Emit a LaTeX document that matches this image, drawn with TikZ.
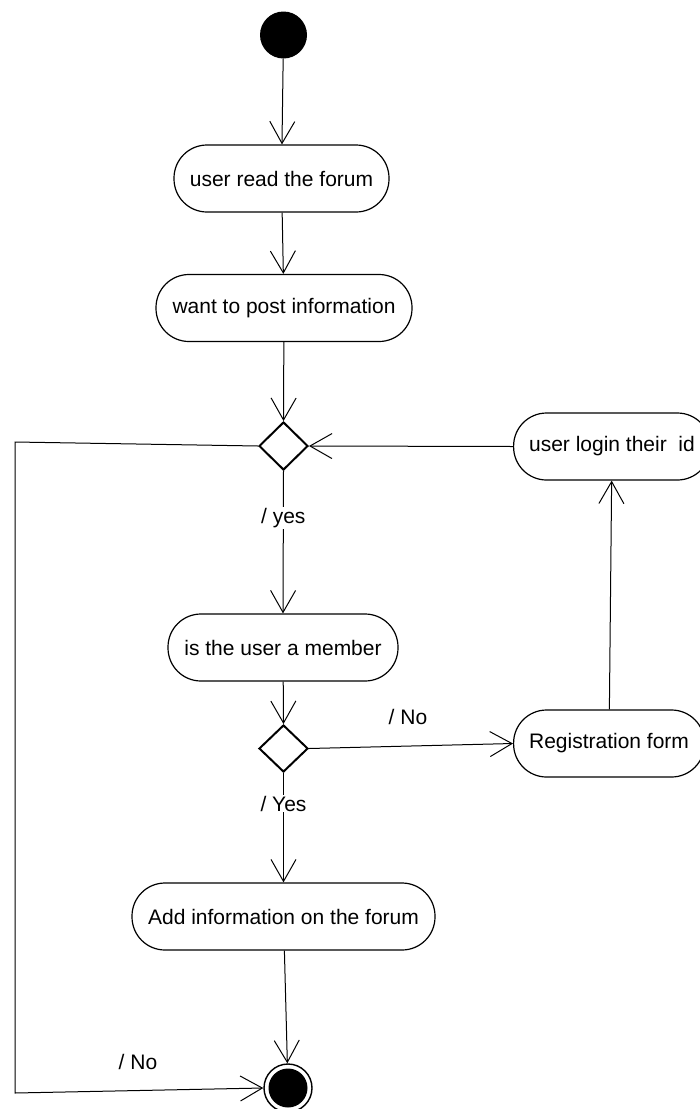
\documentclass[tikz,border=0pt]{standalone}
\usepackage{fontspec}
\setmainfont{Liberation Sans}
\usetikzlibrary{shapes.geometric,arrows.meta}

\tikzset{
  txt/.style={font=\fontsize{21pt}{25pt}\selectfont},
  action/.style={txt, draw, line width=1.2pt, fill=white, rectangle,
    rounded corners=33pt, minimum height=67pt, inner xsep=15.5pt, inner ysep=0pt},
  decision/.style={draw, line width=2pt, fill=white, diamond,
    minimum width=49pt, minimum height=48pt, inner sep=0pt},
  startnode/.style={circle, fill=black, minimum size=47pt, inner sep=0pt},
  endnode/.style={circle, draw, line width=1.4pt, fill=white, minimum size=48pt, inner sep=0pt,
    path picture={\fill[black] (path picture bounding box.center) circle (19.5pt);}},
  flow/.style={line width=1pt, -{Straight Barb[length=22pt, width=25pt, line width=1pt]}},
  guard/.style={txt, fill=white, inner sep=1pt},
}

\begin{document}
\begin{tikzpicture}[x=1pt, y=-1pt]
  \clip (0,0) rectangle (700,1109);
  \fill[white] (0,0) rectangle (700,1109);

  % activities and decisions
  \node[startnode] (start) at (283.5,35) {};
  \node[action, minimum width=215pt] (read) at (281.5,178.5) {user read the forum};
  \node[action, minimum width=256pt] (want) at (284,308) {want to post information};
  \node[decision] (d1) at (283.5,446) {};
  \node[action, anchor=west] (login) at (513,446.5) {user login their\ \ id};
  \node[action, minimum width=230pt] (member) at (283,647.5) {is the user a member};
  \node[decision, minimum height=47pt] (d2) at (283.5,748.5) {};
  \node[action, anchor=west] (reg) at (513,743.5) {Registration form};
  \node[action, minimum width=303pt] (add) at (283.5,916.5) {Add information on the forum};
  \node[endnode] (finish) at (288,1088) {};

  % corners of the "No" branch round the left side
  \coordinate (c1) at (15,442);
  \coordinate (c2) at (15,1093);

  % control flow
  \draw[flow] (start) -- (read);
  \draw[flow] (read) -- (want);
  \draw[flow] (want) -- (d1.north);
  \draw[flow] (login.west) -- (d1.east);
  \draw[flow] (d1.south) -- (member.north)
    node[guard, pos=0.33] (gyes) {/ yes};
  \draw[flow] (member) -- (d2.north);
  \draw[flow] (d2.east) -- (reg.west);
  \draw[flow] (d2.south) -- (add.north)
    node[guard, pos=0.28] (gyes2) {/ Yes};
  \draw[flow] (reg) -- (login);
  \draw[flow] (add) -- (finish);
  \draw[flow] (d1.west) -- (c1) -- (c2) -- (finish.west);

  % guard labels beside the lines
  \node[txt] (gno) at (408,717) {/ No};
  \node[txt] (gno2) at (138,1062) {/ No};
\end{tikzpicture}
\end{document}
